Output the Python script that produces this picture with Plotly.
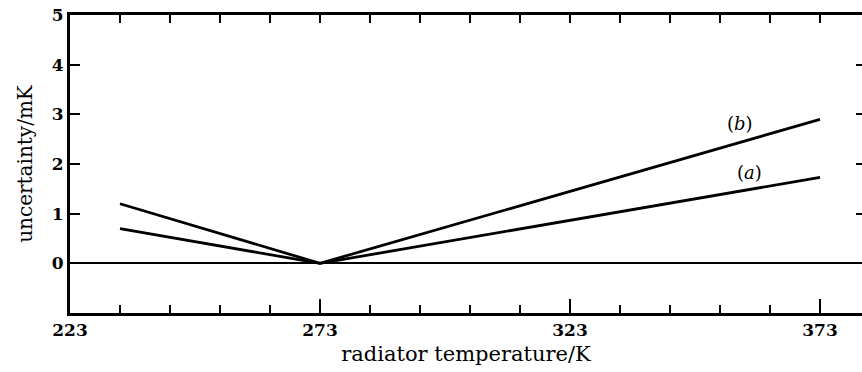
import plotly.graph_objects as go

# Radiator temperature (K) and the two uncertainty curves (mK)
temperature = [233, 273, 373]
uncertainty_a = [0.7, 0.0, 1.73]
uncertainty_b = [1.2, 0.0, 2.9]

x_major_ticks = [223, 273, 323, 373]
x_minor_ticks = list(range(233, 374, 10))
y_ticks = [0, 1, 2, 3, 4, 5]

curve_labels = [
    dict(text="(<i>b</i>)", x=357, y=2.82),
    dict(text="(<i>a</i>)", x=358.8, y=1.82),
]

x_range = [223, 381.4]
y_range = [-1, 5]

serif = "DejaVu Serif, serif"
ink = "black"

fig = go.Figure()
for vals in (uncertainty_a, uncertainty_b):
    fig.add_trace(go.Scatter(
        x=temperature, y=vals, mode="lines",
        line=dict(color=ink, width=2.8), showlegend=False, hoverinfo="skip",
    ))
# empty trace so the top and right tick axes get drawn
fig.add_trace(go.Scatter(x=[], y=[], xaxis="x2", yaxis="y2", showlegend=False))

for lab in curve_labels:
    fig.add_annotation(
        x=lab["x"], y=lab["y"], text=lab["text"], showarrow=False,
        font=dict(family=serif, size=18, color=ink),
    )

fig.update_layout(
    width=862, height=372,
    margin=dict(l=70, r=0, t=15, b=59),
    paper_bgcolor="white", plot_bgcolor="white",
    xaxis=dict(
        range=x_range, showgrid=False, zeroline=False,
        showline=True, linecolor=ink, linewidth=2.5, mirror=True,
        tickmode="array", tickvals=x_major_ticks,
        ticks="inside", ticklen=14, tickwidth=2, tickcolor=ink,
        minor=dict(ticks="inside", tickvals=x_minor_ticks, ticklen=8,
                   tickwidth=2, tickcolor=ink, showgrid=False),
        tickfont=dict(family=serif, size=17, color=ink, weight="bold"),
        title=dict(text="radiator temperature/K",
                   font=dict(family=serif, size=21, color=ink), standoff=8),
    ),
    xaxis2=dict(
        range=x_range, overlaying="x", side="top", showgrid=False,
        zeroline=False, showline=False, showticklabels=False,
        tickmode="array", tickvals=x_minor_ticks,
        ticks="inside", ticklen=8, tickwidth=2, tickcolor=ink,
    ),
    yaxis=dict(
        range=y_range, showgrid=False,
        zeroline=True, zerolinecolor=ink, zerolinewidth=1.6,
        showline=True, linecolor=ink, linewidth=2.8,
        tickmode="array", tickvals=y_ticks,
        ticks="inside", ticklen=10, tickwidth=2, tickcolor=ink,
        tickfont=dict(family=serif, size=17, color=ink, weight="bold"),
        title=dict(text="uncertainty/mK",
                   font=dict(family=serif, size=20, color=ink), standoff=14),
    ),
    yaxis2=dict(
        range=y_range, overlaying="y", side="right", showgrid=False,
        zeroline=False, showline=False, showticklabels=False,
        tickmode="array", tickvals=[1, 2, 3, 4],
        ticks="inside", ticklen=6, tickwidth=2, tickcolor=ink,
    ),
)

fig.write_html("out.html")
